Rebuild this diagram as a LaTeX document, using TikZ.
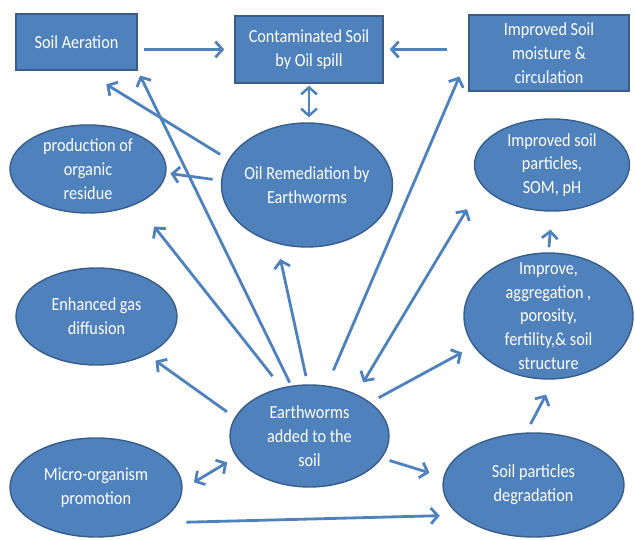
\documentclass[tikz,border=0pt]{standalone}
\usepackage{fontspec}
\setmainfont{Carlito}[FakeStretch=0.88]
\usetikzlibrary{arrows.meta,shapes.geometric}
\definecolor{fillblue}{RGB}{79,129,189}
\definecolor{edgeblue}{RGB}{56,93,138}
\definecolor{arrowblue}{RGB}{79,129,189}

\begin{document}
\begin{tikzpicture}[
    box/.style={rectangle, draw=edgeblue, line width=0.8pt, fill=fillblue, text=white,
                align=center, inner sep=1pt, font=\fontsize{10.5}{13.5}\selectfont},
    blob/.style={ellipse, draw=edgeblue, line width=0.8pt, fill=fillblue, inner sep=0pt},
    txt/.style={text=white, align=center, font=\fontsize{10.5}{13.5}\selectfont},
    arr/.style={-{Straight Barb[length=4pt,width=9pt]}, line width=1.6pt, arrowblue},
    darr/.style={arr, arrows={Straight Barb[length=4pt,width=9pt]-Straight Barb[length=4pt,width=9pt]}}
]
\useasboundingbox (0,0) rectangle (12.7,10.8);

% top row
\node[box, minimum width=2.42cm, minimum height=1.12cm] (aer) at (1.53,9.96) {Soil Aeration};
\node[box, minimum width=2.96cm, minimum height=1.34cm] (cont) at (6.18,9.81) {Contaminated Soil\\by Oil spill};
\node[box, minimum width=3.2cm, minimum height=1.52cm] (moist) at (10.98,9.74) {Improved Soil\\moisture \&\\circulation};

% ellipses
\node[blob, minimum width=3.12cm, minimum height=1.76cm,
      label={[txt]center:{production of\\organic\\residue}}] (prod) at (1.76,7.42) {};
\node[blob, minimum width=3.42cm, minimum height=2.48cm,
      label={[txt]center:{Oil Remediation by\\Earthworms}}] (rem) at (6.14,7.10) {};
\node[blob, minimum width=3.1cm, minimum height=1.84cm,
      label={[txt]center:{Improved soil\\particles,\\SOM, pH}}] (partic) at (11.04,7.50) {};
\node[blob, minimum width=3.22cm, minimum height=1.94cm,
      label={[txt]center:{Enhanced gas\\diffusion}}] (gas) at (1.93,4.47) {};
\node[blob, minimum width=3.38cm, minimum height=2.52cm,
      label={[txt]center:{Improve,\\aggregation ,\\porosity,\\fertility,\& soil\\structure}}] (aggr) at (10.97,4.48) {};
\node[blob, minimum width=3.18cm, minimum height=2.04cm,
      label={[txt]center:{Earthworms\\added to the\\soil}}] (ew) at (6.19,2.08) {};
\node[blob, minimum width=3.44cm, minimum height=1.98cm,
      label={[txt]center:{Micro-organism\\promotion}}] (micro) at (1.92,1.05) {};
\node[blob, minimum width=3.62cm, minimum height=2.08cm,
      label={[txt]center:{Soil particles\\degradation}}] (degr) at (10.67,1.10) {};

% top row arrows
\draw[arr, shorten <=0.12cm, shorten >=0.2cm] (aer.east |- cont.west) -- (cont.west);
\draw[arr, shorten <=0.42cm, shorten >=0.12cm] (moist.west |- cont.east) -- (cont.east);
\draw[darr, line width=1.4pt, shorten <=0.04cm, shorten >=0.1cm] (cont.south) -- (cont.south |- rem.north);

% from oil remediation
\draw[arr, shorten <=0.19cm, shorten >=0.52cm] (rem.162) -- (aer.-75);
\draw[arr, shorten <=0.17cm, shorten >=0.08cm] (rem.177) -- (prod.-3);

% from earthworms
\draw[arr, shorten <=0.07cm, shorten >=0.11cm] (ew.110) -- (aer.south east);
\draw[arr, shorten <=0.29cm, shorten >=0.57cm] (ew.120) -- (prod.-36);
\draw[arr, shorten <=0.17cm, shorten >=0.31cm] (ew.92) -- (rem.-117);
\draw[arr, shorten <=0.19cm, shorten >=0.2cm] (ew.166) -- (gas.-37);
\draw[darr, shorten <=0.21cm, shorten >=0.26cm] (ew.196) -- (micro.-1);
\draw[arr, shorten <=0.16cm, shorten >=0.29cm] (ew.-17) -- (degr.175);
\draw[arr, shorten <=0.19cm, shorten >=0.26cm] (ew.29) -- (aggr.202);
\draw[arr, shorten <=0.33cm, shorten >=0.45cm] (ew.71) -- (moist.182);
\draw[darr, shorten <=0.27cm, shorten >=0.56cm] (ew.42) -- (partic.196);

% lower row and right column
\draw[arr, shorten <=0.58cm, shorten >=0.38cm] (micro.-30) -- (degr.202);
\draw[arr, shorten <=0.19cm, shorten >=0.34cm] (degr.98) -- (aggr.-85);
\draw[arr, shorten <=0.1cm, shorten >=0.36cm] (aggr.north) -- (partic.south);

\end{tikzpicture}
\end{document}
